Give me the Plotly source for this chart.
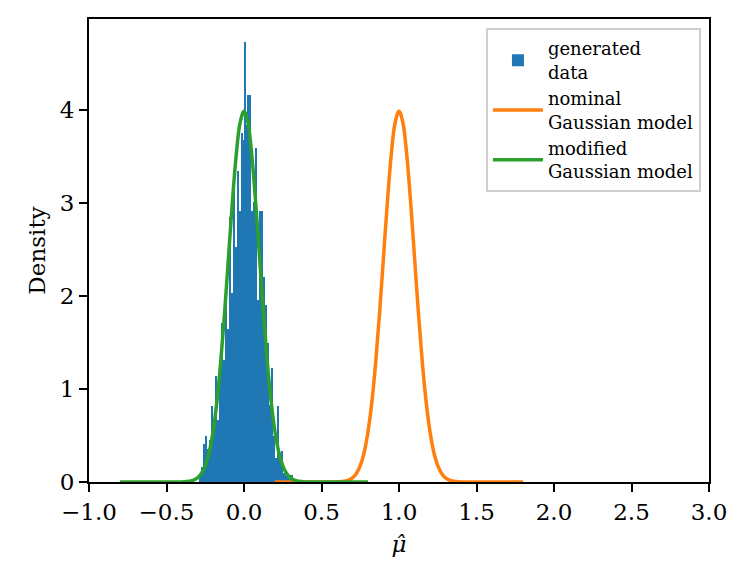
import plotly.graph_objects as go

# ---- data ----
bin_edges = [-0.2903, -0.2774, -0.2645, -0.2516, -0.2387, -0.2258, -0.2129, -0.2000,
             -0.1871, -0.1742, -0.1613, -0.1484, -0.1355, -0.1226, -0.1097, -0.0968,
             -0.0839, -0.0710, -0.0581, -0.0452, -0.0323, -0.0194, -0.0065, 0.0000,
             0.0065, 0.0194, 0.0323, 0.0452, 0.0581, 0.0710, 0.0839, 0.0968, 0.1097,
             0.1226, 0.1355, 0.1484, 0.1613, 0.1742, 0.1871, 0.2000, 0.2129, 0.2258,
             0.2387, 0.2516, 0.2645, 0.2774, 0.2903, 0.3032, 0.3161]
bin_density = [0.05, 0.16, 0.41, 0.49, 0.35, 0.45, 0.82, 0.67, 1.14, 0.67, 1.20, 1.71,
               1.31, 1.90, 1.65, 2.85, 2.03, 3.17, 2.53, 3.35, 2.92, 3.75, 3.68, 4.73,
               3.84, 4.16, 4.16, 2.92, 3.01, 3.59, 1.96, 2.92, 2.92, 2.20, 1.90, 1.50,
               0.83, 1.23, 0.50, 0.26, 0.82, 0.26, 0.33, 0.10, 0.08, 0.08, 0.08, 0.08]

model_offsets = [-0.8, -0.7, -0.6, -0.5, -0.45, -0.4, -0.35, -0.325, -0.3, -0.275, -0.25,
                 -0.225, -0.2, -0.175, -0.15, -0.125, -0.1, -0.075, -0.05, -0.025, 0.0,
                 0.025, 0.05, 0.075, 0.1, 0.125, 0.15, 0.175, 0.2, 0.225, 0.25, 0.275,
                 0.3, 0.325, 0.35, 0.4, 0.45, 0.5, 0.6, 0.7, 0.8]
model_density = [0.0, 0.0, 0.0, 0.0, 0.0, 0.0013, 0.0087, 0.020, 0.044, 0.091, 0.175,
                 0.317, 0.540, 0.863, 1.295, 1.826, 2.420, 3.011, 3.521, 3.866, 3.989,
                 3.866, 3.521, 3.011, 2.420, 1.826, 1.295, 0.863, 0.540, 0.317, 0.175,
                 0.091, 0.044, 0.020, 0.0087, 0.0013, 0.0, 0.0, 0.0, 0.0, 0.0]
nominal_mean = 1.0
modified_mean = 0.0

x_tick_vals = [-1.0, -0.5, 0.0, 0.5, 1.0, 1.5, 2.0, 2.5, 3.0]
x_tick_text = ["\u22121.0", "\u22120.5", "0.0", "0.5", "1.0", "1.5", "2.0", "2.5", "3.0"]
y_tick_vals = [0, 1, 2, 3, 4]
y_tick_text = ["0", "1", "2", "3", "4"]

# ---- figure ----
centers = [(a + b) / 2 for a, b in zip(bin_edges[:-1], bin_edges[1:])]
widths = [b - a for a, b in zip(bin_edges[:-1], bin_edges[1:])]

fig = go.Figure()
fig.add_trace(go.Bar(
    x=centers, y=bin_density, width=widths,
    marker=dict(color="#1f77b4", line=dict(width=0)),
    name="generated<br>data",
))
fig.add_trace(go.Scatter(
    x=[nominal_mean + o for o in model_offsets], y=model_density,
    mode="lines", line=dict(color="#ff7f0e", width=3.5, shape="spline"),
    name="nominal<br>Gaussian model",
))
fig.add_trace(go.Scatter(
    x=[modified_mean + o for o in model_offsets], y=model_density,
    mode="lines", line=dict(color="#2ca02c", width=3.5, shape="spline"),
    name="modified<br>Gaussian model",
))

font_family = "DejaVu Serif"
fig.update_layout(
    width=749, height=587,
    margin=dict(l=89, r=40, t=19, b=105),
    paper_bgcolor="white", plot_bgcolor="white",
    font=dict(family=font_family, size=22, color="black"),
    bargap=0,
    showlegend=True,
    legend=dict(
        x=0.987, y=0.98, xanchor="right", yanchor="top",
        bgcolor="rgba(255,255,255,0.8)", bordercolor="#d0d0d0", borderwidth=2,
        font=dict(family=font_family, size=18),
        tracegroupgap=0, itemwidth=50,
    ),
    xaxis=dict(
        range=[-1.0, 3.0], tickvals=x_tick_vals, ticktext=x_tick_text,
        tickfont=dict(family=font_family, size=23),
        showgrid=False, zeroline=False, showline=True, linecolor="black", linewidth=2,
        mirror=True, ticks="outside", ticklen=8, tickwidth=2, tickcolor="black",
        title=dict(text="<i>μ̂</i>", font=dict(family=font_family, size=23), standoff=12),
    ),
    yaxis=dict(
        range=[0, 4.98], tickvals=y_tick_vals, ticktext=y_tick_text,
        tickfont=dict(family=font_family, size=23),
        showgrid=False, zeroline=False, showline=True, linecolor="black", linewidth=2,
        mirror=True, ticks="outside", ticklen=8, tickwidth=2, tickcolor="black",
        title=dict(text="Density", font=dict(family=font_family, size=23), standoff=8),
    ),
)

fig.write_html("out.html")
